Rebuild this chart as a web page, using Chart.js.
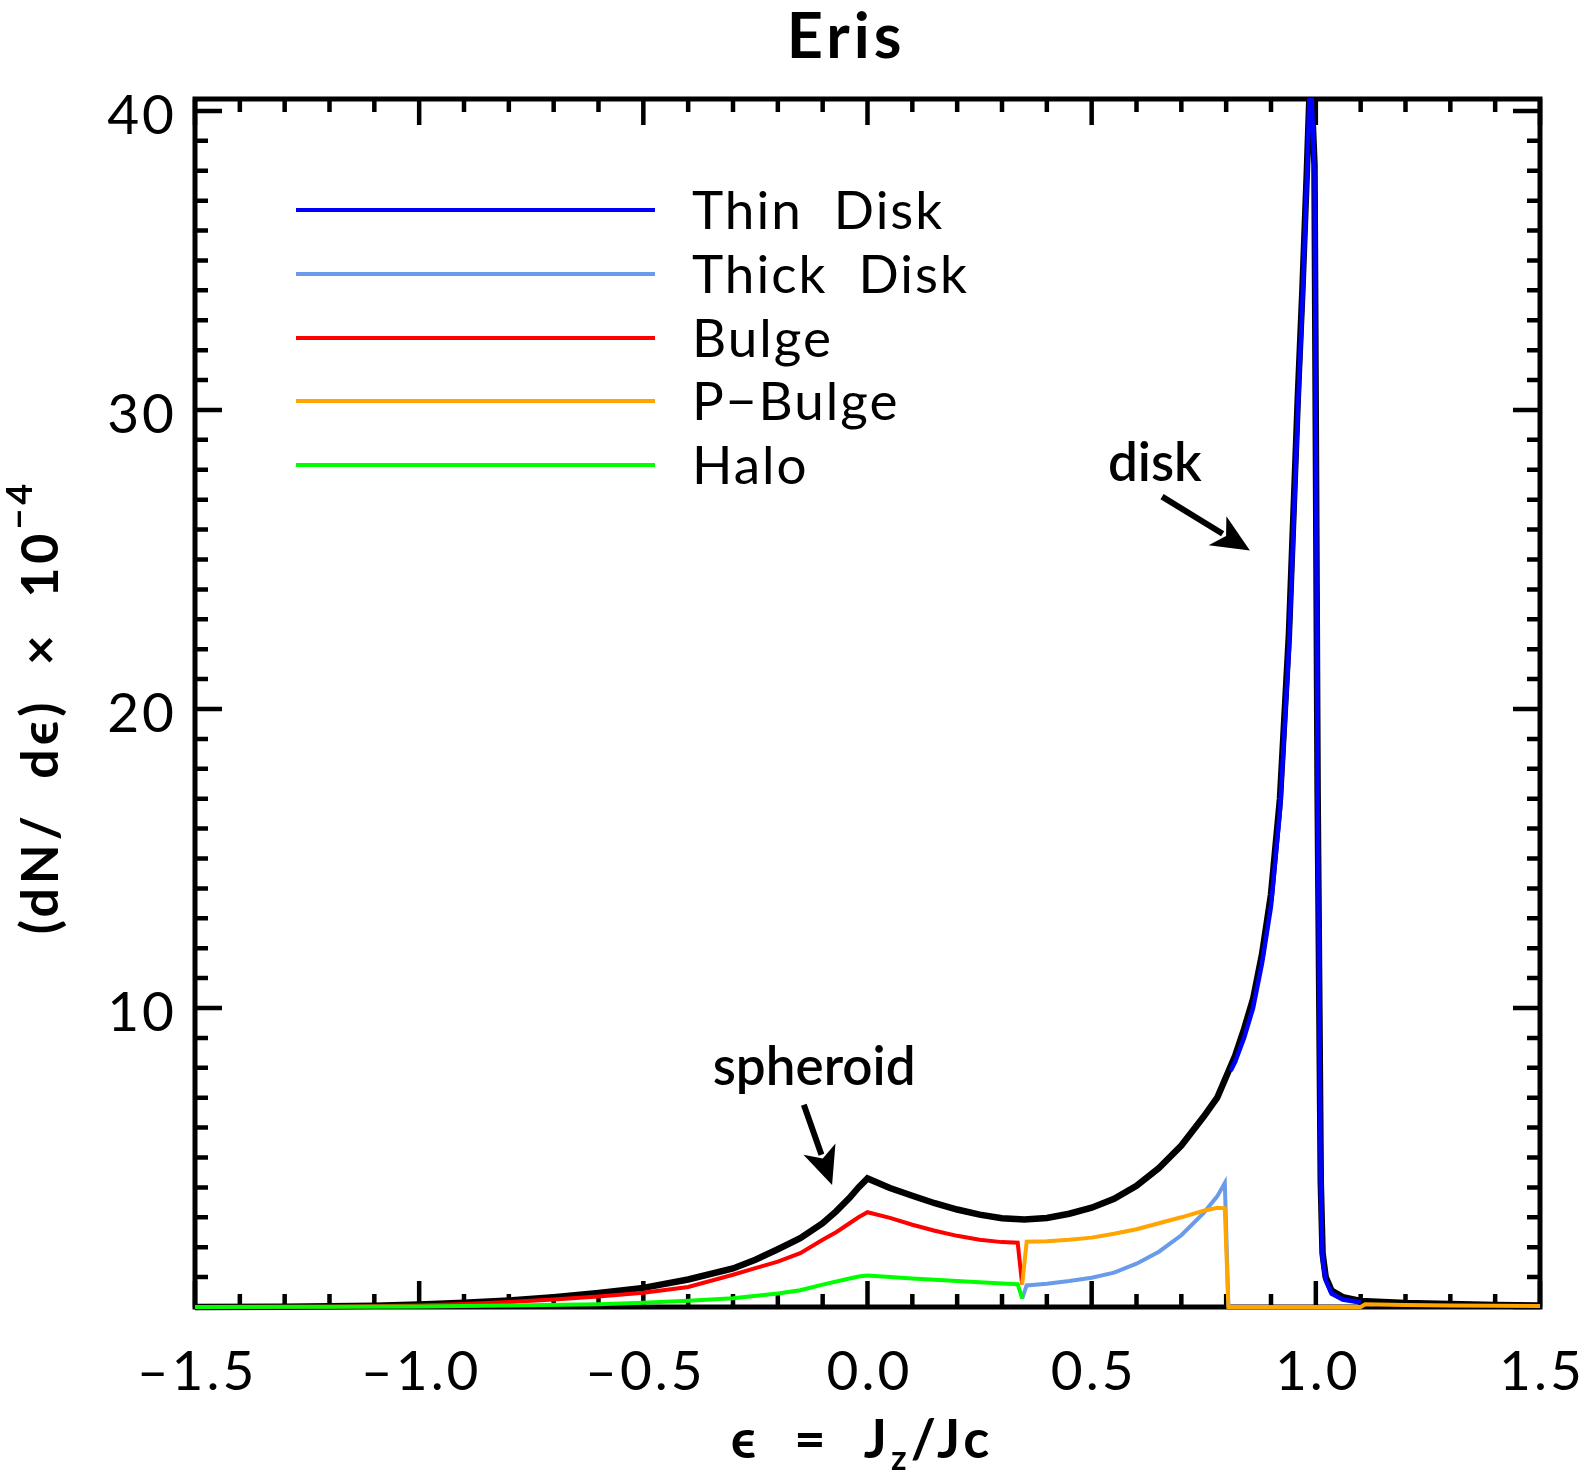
<!DOCTYPE html>
<html>
<head>
<meta charset="utf-8">
<script src="https://cdn.jsdelivr.net/npm/chart.js@4.4.0/dist/chart.umd.min.js"></script>
<style>
  html, body { margin: 0; padding: 0; background: #fff; }
</style>
</head>
<body>
<canvas id="eris" width="1585" height="1472"></canvas>
<script>
// axis ticks
const X_TICKS = [-1.5, -1.0, -0.5, 0.0, 0.5, 1.0, 1.5];
const Y_TICKS = [10, 20, 30, 40];

// total (black)
const totalEps = [-1.5, -1.3, -1.1, -1.0, -0.9, -0.8, -0.7, -0.6, -0.5, -0.4, -0.3, -0.25, -0.2, -0.15, -0.1, -0.07, -0.04, -0.02, 0.0,
  0.05, 0.1, 0.15, 0.2, 0.25, 0.3, 0.35, 0.4, 0.45, 0.5, 0.55, 0.6, 0.65, 0.7, 0.75, 0.78, 0.8,
  0.82, 0.84, 0.86, 0.88, 0.9, 0.92, 0.94, 0.95, 0.96, 0.97, 0.98, 0.988, 0.997, 1.004, 1.011, 1.015,
  1.022, 1.035, 1.06, 1.1, 1.2, 1.3, 1.4, 1.5];
const totalVal = [0.0, 0.01, 0.04, 0.08, 0.14, 0.22, 0.33, 0.47, 0.64, 0.92, 1.29, 1.58, 1.93, 2.3, 2.8, 3.2, 3.65, 4.0, 4.3,
  3.98, 3.72, 3.47, 3.26, 3.09, 2.97, 2.93, 2.98, 3.12, 3.32, 3.62, 4.05, 4.65, 5.4, 6.37, 7.0, 7.7,
  8.4, 9.3, 10.3, 11.8, 13.8, 17.0, 22.5, 26.5, 30.5, 34.0, 38.0, 41.5, 38.2, 17.2, 4.2, 1.8,
  1.0, 0.55, 0.33, 0.2, 0.13, 0.1, 0.07, 0.05];

// thin disk (blue)
const thinEps = [0.81, 0.82, 0.84, 0.86, 0.88, 0.9, 0.92, 0.94, 0.95, 0.96, 0.97, 0.98, 0.988, 0.997, 1.004, 1.011,
  1.015, 1.022, 1.035, 1.06, 1.1];
const thinVal = [7.9, 8.2, 9.0, 10.0, 11.5, 13.4, 16.6, 22.0, 26.0, 30.0, 33.6, 37.7, 41.5, 38.0, 17.0, 4.0,
  1.6, 0.9, 0.45, 0.25, 0.15];

// thick disk (light blue)
const thickEps = [0.345, 0.355, 0.4, 0.45, 0.5, 0.55, 0.6, 0.65, 0.7, 0.75, 0.78, 0.797, 0.805];
const thickVal = [0.28, 0.72, 0.78, 0.87, 0.98, 1.15, 1.45, 1.85, 2.4, 3.15, 3.7, 4.15, 0.0];

// bulge (red)
const bulgeEps = [-1.5, -1.2, -1.0, -0.9, -0.8, -0.7, -0.6, -0.5, -0.4, -0.3, -0.25, -0.2, -0.15, -0.1, -0.07, -0.04, -0.02, 0.0,
  0.05, 0.1, 0.15, 0.2, 0.25, 0.3, 0.335, 0.345];
const bulgeVal = [0.0, 0.01, 0.05, 0.1, 0.17, 0.25, 0.35, 0.48, 0.67, 1.08, 1.3, 1.52, 1.8, 2.25, 2.5, 2.8, 3.0, 3.17,
  2.98, 2.75, 2.55, 2.38, 2.25, 2.17, 2.15, 0.75];

// pseudo-bulge (orange)
const pbulgeEps = [0.345, 0.355, 0.4, 0.45, 0.5, 0.55, 0.6, 0.65, 0.7, 0.75, 0.78, 0.797, 0.805, 1.1, 1.11, 1.2, 1.3, 1.4, 1.5];
const pbulgeVal = [0.75, 2.18, 2.2, 2.25, 2.32, 2.45, 2.6, 2.8, 3.0, 3.22, 3.32, 3.3, 0.0, 0.0, 0.09, 0.07, 0.05, 0.04, 0.03];

// halo (green)
const haloEps = [-1.5, -1.2, -1.0, -0.8, -0.6, -0.5, -0.4, -0.3, -0.2, -0.15, -0.1, -0.05, -0.02, 0.0,
  0.05, 0.1, 0.15, 0.2, 0.25, 0.3, 0.335, 0.345];
const haloVal = [0.0, 0.005, 0.02, 0.05, 0.09, 0.14, 0.21, 0.29, 0.45, 0.56, 0.75, 0.92, 1.02, 1.05,
  1.0, 0.95, 0.91, 0.87, 0.83, 0.79, 0.76, 0.28];

const pts = (xs, ys) => xs.map((v, i) => ({ x: v, y: ys[i] }));
const FONT = 'Lato, "DejaVu Sans", sans-serif';

function line(label, xs, ys, color, width, order) {
  return {
    label: label,
    data: pts(xs, ys),
    borderColor: color,
    backgroundColor: color,
    borderWidth: width,
    pointRadius: 0,
    tension: 0,
    order: order,
    clip: { left: 4, right: 4, top: 1, bottom: 5 }
  };
}

function arrow(ctx, x0, y0, x1, y1) {
  const ang = Math.atan2(y1 - y0, x1 - x0);
  const head = 38, half = 17;
  const bx = x1 - head * Math.cos(ang), by = y1 - head * Math.sin(ang);
  ctx.beginPath();
  ctx.lineWidth = 6;
  ctx.moveTo(x0, y0);
  ctx.lineTo(bx + 6 * Math.cos(ang), by + 6 * Math.sin(ang));
  ctx.stroke();
  ctx.beginPath();
  ctx.moveTo(x1, y1);
  ctx.lineTo(bx + half * Math.sin(ang), by - half * Math.cos(ang));
  ctx.lineTo(bx + 10 * Math.cos(ang), by + 10 * Math.sin(ang));
  ctx.lineTo(bx - half * Math.sin(ang), by + half * Math.cos(ang));
  ctx.closePath();
  ctx.fill();
}

const decor = {
  id: 'decor',
  beforeDatasetsDraw(chart) {
    const { ctx, chartArea: a, scales: { x, y } } = chart;
    ctx.save();
    ctx.strokeStyle = '#000';
    ctx.lineWidth = 4.5;
    ctx.beginPath();
    for (let i = -15; i <= 15; i++) {
      const px = x.getPixelForValue(i / 10);
      const len = i % 5 === 0 ? 26 : 13;
      ctx.moveTo(px, a.bottom); ctx.lineTo(px, a.bottom - len);
      ctx.moveTo(px, a.top); ctx.lineTo(px, a.top + len);
    }
    for (let v = 0; v <= 40; v++) {
      const py = y.getPixelForValue(v);
      const len = v % 10 === 0 ? 27 : 13;
      ctx.moveTo(a.left, py); ctx.lineTo(a.left + len, py);
      ctx.moveTo(a.right, py); ctx.lineTo(a.right - len, py);
    }
    ctx.stroke();
    ctx.lineWidth = 5;
    ctx.strokeRect(a.left, a.top, a.right - a.left, a.bottom - a.top);
    ctx.restore();
  },
  afterDraw(chart) {
    const { ctx, chartArea: a, scales: { x, y } } = chart;
    ctx.save();
    ctx.fillStyle = '#000';
    ctx.strokeStyle = '#000';

    // tick labels
    ctx.font = '55px ' + FONT;
    ctx.letterSpacing = '3px';
    ctx.textAlign = 'center';
    ctx.textBaseline = 'middle';
    X_TICKS.forEach(v => {
      ctx.fillText(v.toFixed(1).replace('-', '\u2013'), x.getPixelForValue(v) + 2, 1372);
    });
    ctx.textAlign = 'right';
    Y_TICKS.forEach(v => {
      ctx.fillText(String(v), 177, y.getPixelForValue(v) + 5);
    });

    // title
    ctx.textAlign = 'center';
    ctx.font = 'bold 63px ' + FONT;
    ctx.letterSpacing = '4px';
    ctx.fillText('Eris', 846, 38);

    // legend
    ctx.font = '53px ' + FONT;
    ctx.letterSpacing = '2px';
    ctx.textAlign = 'left';
    const legY = [210, 274, 338, 401, 465];
    const legSets = chart.data.datasets.filter(d => d.label !== 'Total');
    legSets.forEach((d, i) => {
      ctx.strokeStyle = d.borderColor;
      ctx.lineWidth = 4;
      ctx.beginPath();
      ctx.moveTo(296, legY[i]); ctx.lineTo(655, legY[i]);
      ctx.stroke();
      ctx.fillText(d.label.replace(' ', '  ').replace('-', '\u2212'), 692, legY[i] + 2);
    });
    ctx.strokeStyle = '#000';

    // annotations
    ctx.font = '600 53px ' + FONT;
    ctx.letterSpacing = '0px';
    ctx.textAlign = 'center';
    ctx.fillText('disk', x.getPixelForValue(0.641), y.getPixelForValue(28.2));
    arrow(ctx, x.getPixelForValue(0.657), y.getPixelForValue(27.1), x.getPixelForValue(0.853), y.getPixelForValue(25.3));
    ctx.fillText('spheroid', x.getPixelForValue(-0.119), y.getPixelForValue(8.0));
    arrow(ctx, x.getPixelForValue(-0.142), y.getPixelForValue(6.76), x.getPixelForValue(-0.079), y.getPixelForValue(4.08));

    // x axis title: eps = J_z/Jc
    ctx.font = 'bold 54px ' + FONT;
    ctx.letterSpacing = '4px';
    ctx.textAlign = 'left';
    ctx.textBaseline = 'alphabetic';
    const p1 = '\u03F5  =  J', sub = 'z', p2 = '/Jc';
    const w1 = ctx.measureText(p1).width, w3 = ctx.measureText(p2).width;
    ctx.font = 'bold 34px ' + FONT;
    const w2 = ctx.measureText(sub).width;
    let sx = 862 - (w1 + w2 + w3) / 2;
    const base = 1458;
    ctx.font = 'bold 54px ' + FONT;
    ctx.fillText(p1, sx, base);
    ctx.font = 'bold 34px ' + FONT;
    ctx.fillText(sub, sx + w1, base + 12);
    ctx.font = 'bold 54px ' + FONT;
    ctx.fillText(p2, sx + w1 + w2, base);

    // y axis title
    ctx.translate(58, 707);
    ctx.rotate(-Math.PI / 2);
    ctx.font = 'bold 52px ' + FONT;
    ctx.letterSpacing = '4px';
    const t1 = '(dN/  d\u03F5)  \u00D7  10', t2 = '\u22124';
    const u1 = ctx.measureText(t1).width;
    ctx.font = 'bold 36px ' + FONT;
    const u2 = ctx.measureText(t2).width;
    const ty = -(u1 + u2) / 2;
    ctx.font = 'bold 52px ' + FONT;
    ctx.fillText(t1, ty, 0);
    ctx.font = 'bold 36px ' + FONT;
    ctx.fillText(t2, ty + u1, -26);
    ctx.restore();
  }
};

new Chart(document.getElementById('eris').getContext('2d'), {
  type: 'line',
  data: {
    datasets: [
      line('Total', totalEps, totalVal, '#000000', 6.5, 10),
      line('Thin Disk', thinEps, thinVal, '#0000FF', 4.5, 5),
      line('Thick Disk', thickEps, thickVal, '#6A9BEA', 4, 4),
      line('Bulge', bulgeEps, bulgeVal, '#FF0000', 4, 3),
      line('P-Bulge', pbulgeEps, pbulgeVal, '#FFA500', 4, 2),
      line('Halo', haloEps, haloVal, '#00FF00', 4, 1)
    ]
  },
  options: {
    responsive: false,
    animation: false,
    devicePixelRatio: 1,
    layout: { padding: { left: 195, right: 45, top: 99, bottom: 165 } },
    plugins: { legend: { display: false }, tooltip: { enabled: false } },
    scales: {
      x: { type: 'linear', min: -1.5, max: 1.5, display: false },
      y: { type: 'linear', min: 0, max: 40.4, display: false }
    }
  },
  plugins: [decor]
});
</script>
</body>
</html>
